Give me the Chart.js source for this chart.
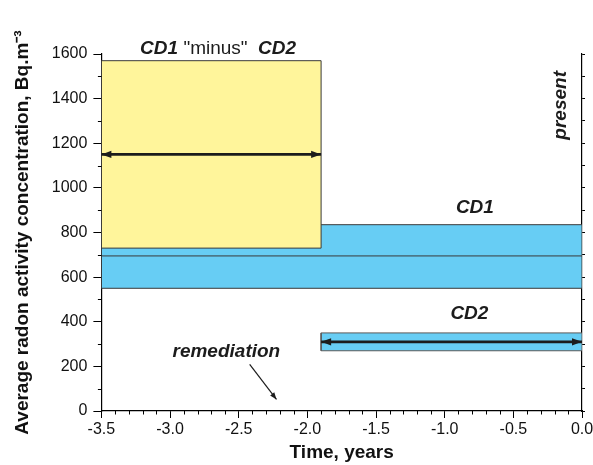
<!DOCTYPE html>
<html>
<head>
<meta charset="utf-8">
<script src="https://cdn.jsdelivr.net/npm/chart.js@4"></script>
<style>
  html, body { margin: 0; padding: 0; background: #fff; }
  #wrap { width: 593px; height: 465px; position: relative; }
</style>
</head>
<body>
<div id="wrap"><canvas id="chart"></canvas></div>
<script>
// Tick labels
const xTickLabels = ['-3.5', '-3.0', '-2.5', '-2.0', '-1.5', '-1.0', '-0.5', '0.0'];
const yTickLabels = ['0', '200', '400', '600', '800', '1000', '1200', '1400', '1600'];

// Time periods, years before present
const periodWhole = [-3.5, 0.0];
const periodBefore = [-3.5, -1.9];   // before remediation
const periodAfter = [-1.9, 0.0];     // after remediation

// Average radon activity concentrations, Bq/m3
const cd1Band = [550, 835];
const cd1Mean = 695;
const cd2Band = [270, 350];
const cd2Mean = 310;
const diffBand = [730, 1570];
const diffMean = 1150;

// Pointer from the "remediation" label down to the time axis
const remediationPointer = [[-2.42, 209], [-2.225, 52]];

const FONT = "'Liberation Sans', Arial, Helvetica, sans-serif";
const INK = '#1c1c1c';
const BLUE = '#67cdf4';
const YELLOW = '#fff59b';

// Closed rectangle outline from an x range and a y range
function box(xr, yr) {
  return [
    { x: xr[0], y: yr[0] }, { x: xr[1], y: yr[0] },
    { x: xr[1], y: yr[1] }, { x: xr[0], y: yr[1] },
    { x: xr[0], y: yr[0] }
  ];
}
function hline(xr, y) {
  return [{ x: xr[0], y: y }, { x: xr[1], y: y }];
}

// Text notes placed in data coordinates
const notes = [
  { parts: [['CD1', 'italic bold'], [' "minus"  ', 'normal'], ['CD2', 'italic bold']], x: -2.65, y: 1600 },
  { parts: [['CD1', 'italic bold']], x: -0.78, y: 887 },
  { parts: [['CD2', 'italic bold']], x: -0.82, y: 412 },
  { parts: [['remediation', 'italic bold']], x: -2.59, y: 242 },
  { parts: [['present', 'italic bold']], x: -0.12, y: 1370, vertical: true }
];

// Minor ticks, arrow heads and text notes
const extras = {
  id: 'extras',
  afterDatasetsDraw(chart) {
    const ctx = chart.ctx;
    const xs = chart.scales.x, ys = chart.scales.y;
    const area = chart.chartArea;

    // arrow heads
    chart.data.datasets.forEach((ds, i) => {
      if (!ds.arrowHeads) return;
      const pts = chart.getDatasetMeta(i).data;
      const heads = [];
      if (ds.arrowHeads === 'both') heads.push([pts[1], pts[0]]);
      heads.push([pts[pts.length - 2], pts[pts.length - 1]]);
      ctx.save();
      ctx.fillStyle = ds.borderColor;
      heads.forEach(([from, tip]) => {
        const dx = tip.x - from.x, dy = tip.y - from.y;
        const len = Math.hypot(dx, dy) || 1;
        const ux = dx / len, uy = dy / len;
        const L = ds.headLength, W = ds.headWidth;
        ctx.beginPath();
        ctx.moveTo(tip.x, tip.y);
        ctx.lineTo(tip.x - ux * L - uy * W, tip.y - uy * L + ux * W);
        ctx.lineTo(tip.x - ux * L + uy * W, tip.y - uy * L - ux * W);
        ctx.closePath();
        ctx.fill();
      });
      ctx.restore();
    });

    // minor ticks
    ctx.save();
    ctx.strokeStyle = '#000';
    ctx.lineWidth = 1;
    ctx.beginPath();
    for (let i = 1; i < 35; i++) {
      if (i % 5 === 0) continue;
      const px = Math.round(xs.getPixelForValue(-3.5 + i * 0.1)) + 0.5;
      ctx.moveTo(px, area.bottom);
      ctx.lineTo(px, area.bottom + 3.5);
    }
    for (let v = 100; v < 1600; v += 200) {
      const py = Math.round(ys.getPixelForValue(v)) + 0.5;
      ctx.moveTo(area.left - 3.5, py);
      ctx.lineTo(area.left, py);
    }
    ctx.stroke();
    ctx.restore();

    // text notes
    ctx.save();
    ctx.fillStyle = INK;
    ctx.textBaseline = 'alphabetic';
    notes.forEach(n => {
      const px = xs.getPixelForValue(n.x);
      const py = ys.getPixelForValue(n.y);
      const widths = n.parts.map(([t, s]) => {
        ctx.font = s + ' 19px ' + FONT;
        return ctx.measureText(t).width;
      });
      const total = widths.reduce((a, b) => a + b, 0);
      ctx.save();
      ctx.translate(px, py);
      if (n.vertical) ctx.rotate(-Math.PI / 2);
      let cx = -total / 2;
      n.parts.forEach(([t, s], k) => {
        ctx.font = s + ' 19px ' + FONT;
        ctx.textAlign = 'left';
        ctx.fillText(t, cx, 0);
        cx += widths[k];
      });
      ctx.restore();
    });
    ctx.restore();
  }
};

const datasets = [
  // CD1 - CD2 band before remediation
  { data: box(periodBefore, diffBand), backgroundColor: YELLOW, borderColor: '#3a3a3a',
    borderWidth: 1, fill: 'shape', order: 2 },
  // CD1 mean line
  { data: hline(periodWhole, cd1Mean), borderColor: '#3a3a3a', borderWidth: 1, fill: false, order: 3 },
  // CD1 band over the whole period
  { data: box(periodWhole, cd1Band), backgroundColor: BLUE, borderColor: '#3a3a3a',
    borderWidth: 1, fill: 'shape', order: 4 },
  // CD2 band after remediation
  { data: box(periodAfter, cd2Band), backgroundColor: BLUE, borderColor: '#5a5a5a',
    borderWidth: 1, fill: 'shape', order: 2 },
  // period arrows
  { data: hline(periodBefore, diffMean), borderColor: INK, borderWidth: 2.6, fill: false,
    arrowHeads: 'both', headLength: 10, headWidth: 3.6, order: 0, clip: false },
  { data: hline(periodAfter, cd2Mean), borderColor: INK, borderWidth: 2.6, fill: false,
    arrowHeads: 'both', headLength: 10, headWidth: 3.6, order: 0, clip: false },
  // remediation pointer
  { data: remediationPointer.map(p => ({ x: p[0], y: p[1] })), borderColor: INK, borderWidth: 1.2,
    fill: false, arrowHeads: 'end', headLength: 7, headWidth: 2.6, order: 0, clip: false }
];
datasets.forEach(d => { d.showLine = true; d.pointRadius = 0; d.pointHoverRadius = 0; });

new Chart(document.getElementById('chart'), {
  type: 'scatter',
  data: { datasets },
  plugins: [extras],
  options: {
    responsive: true,
    maintainAspectRatio: false,
    animation: false,
    devicePixelRatio: 1,
    layout: { padding: { left: 11, right: 0, top: 54, bottom: 1 } },
    plugins: { legend: { display: false }, tooltip: { enabled: false } },
    scales: {
      x: {
        type: 'linear', min: -3.5, max: 0,
        // let the last label run close to the canvas edge
        afterFit: (scale) => { scale.paddingRight = 11; },
        border: { display: true, color: '#000', width: 1.2 },
        grid: { display: true, drawOnChartArea: false, drawTicks: true, tickLength: 7, color: '#000', lineWidth: 1 },
        ticks: {
          stepSize: 0.5, padding: 2, color: '#111', autoSkip: false, maxRotation: 0,
          font: { family: FONT, size: 16 },
          callback: (v) => xTickLabels[Math.round((v + 3.5) / 0.5)]
        },
        title: { display: true, text: 'Time, years', color: '#111',
          font: { family: FONT, size: 19, weight: 'bold' }, padding: { top: 0, bottom: 0 } }
      },
      y: {
        type: 'linear', min: 0, max: 1600, position: 'left',
        border: { display: true, color: '#000', width: 1.2 },
        grid: { display: true, drawOnChartArea: false, drawTicks: true, tickLength: 8, color: '#000', lineWidth: 1 },
        ticks: {
          stepSize: 200, padding: 6, color: '#111',
          font: { family: FONT, size: 16 },
          callback: (v) => yTickLabels[Math.round(v / 200)]
        },
        title: { display: true, text: 'Average radon activity concentration, Bq.m\u207B\u00B3', color: '#111',
          font: { family: FONT, size: 19, weight: 'bold' }, padding: { top: 0, bottom: 12 } }
      },
      y2: {
        type: 'linear', min: 0, max: 1600, position: 'right',
        border: { display: true, color: '#000', width: 1.2 },
        grid: { display: true, drawOnChartArea: false, drawTicks: true, tickLength: 3, color: '#000', lineWidth: 1 },
        ticks: { display: false, stepSize: 100 }
      }
    }
  }
});
</script>
</body>
</html>
